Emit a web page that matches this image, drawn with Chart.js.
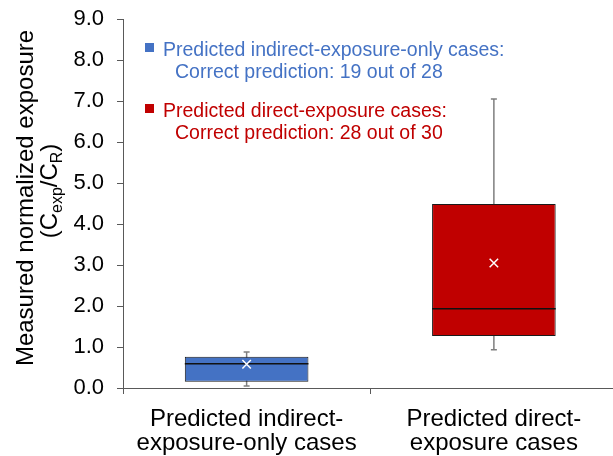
<!DOCTYPE html>
<html>
<head>
<meta charset="utf-8">
<script src="https://cdn.jsdelivr.net/npm/chart.js@4"></script>
<style>
  html, body { margin: 0; padding: 0; background: #fff; overflow: hidden; }
  #wrap { width: 625px; height: 456px; position: relative; }
</style>
</head>
<body>
<div id="wrap"><canvas id="boxChart"></canvas></div>
<script>
// categories (multi-line tick labels)
const categories = [
    ['Predicted indirect-', 'exposure-only cases'],
    ['Predicted direct-', 'exposure cases']
];

// box statistics
const whiskerMin = [0.05, 0.93];
const quartile1  = [0.15, 1.27];
const medians    = [0.59, 1.93];
const quartile3  = [0.76, 4.49];
const whiskerMax = [0.88, 7.05];
const means      = [0.58, 3.05];

const boxColors = ['#4472C4', '#C00000'];

// legend text
const legendItems = [
    { color: '#4472C4', lines: ['Predicted indirect-exposure-only cases:', 'Correct prediction: 19 out of 28'] },
    { color: '#C00000', lines: ['Predicted direct-exposure cases:', 'Correct prediction: 28 out of 30'] }
];

const yTicksMin = 0;
const yTicksMax = 9;
const yTicksStep = 1;

const FONT = '"Liberation Sans", Arial, sans-serif';
const axisColor = '#595959';

const boxRanges = quartile1.map((q, i) => [q, quartile3[i]]);

// whiskers behind the boxes, medians on top of them
const boxPlotPlugin = {
    id: 'boxPlotExtras',
    beforeDatasetsDraw(chart) {
        const ctx = chart.ctx;
        const xs = chart.scales.x, ys = chart.scales.y;
        ctx.save();
        ctx.strokeStyle = '#7f7f7f';
        ctx.lineWidth = 1.5;
        for (let i = 0; i < categories.length; i++) {
            const x = xs.getPixelForValue(i);
            const yMin = ys.getPixelForValue(whiskerMin[i]);
            const yMax = ys.getPixelForValue(whiskerMax[i]);
            ctx.beginPath();
            ctx.moveTo(x, yMin); ctx.lineTo(x, yMax);
            ctx.moveTo(x - 3, yMin); ctx.lineTo(x + 3, yMin);
            ctx.moveTo(x - 3, yMax); ctx.lineTo(x + 3, yMax);
            ctx.stroke();
        }
        ctx.restore();
    },
    afterDatasetDraw(chart, args) {
        if (args.index !== 0) return;
        const ctx = chart.ctx;
        const ys = chart.scales.y;
        const meta = chart.getDatasetMeta(0);
        ctx.save();
        ctx.strokeStyle = '#111';
        ctx.lineWidth = 1.5;
        meta.data.forEach((bar, i) => {
            const y = ys.getPixelForValue(medians[i]);
            const half = bar.width / 2;
            ctx.beginPath();
            ctx.moveTo(bar.x - half, y);
            ctx.lineTo(bar.x + half, y);
            ctx.stroke();
        });
        ctx.restore();
    },
    afterDraw(chart) {
        const ctx = chart.ctx;
        ctx.save();

        // legend inside the plot
        ctx.font = '19.5px ' + FONT;
        ctx.textBaseline = 'alphabetic';
        ctx.textAlign = 'left';
        let base = 56;
        legendItems.forEach(item => {
            ctx.fillStyle = item.color;
            ctx.fillRect(145, base - 13, 9, 9);
            ctx.fillText(item.lines[0], 163, base);
            ctx.fillText(item.lines[1], 175, base + 22);
            base += 61;
        });

        // y axis title, two lines, second with subscripts
        ctx.fillStyle = '#000';
        ctx.translate(33, 198);
        ctx.rotate(-Math.PI / 2);
        ctx.textAlign = 'center';
        ctx.font = '24px ' + FONT;
        ctx.fillText('Measured normalized exposure', 0, 0);

        const parts = [
            { t: '(C', sub: false },
            { t: 'exp', sub: true },
            { t: '/C', sub: false },
            { t: 'R', sub: true },
            { t: ')', sub: false }
        ];
        const mainFont = '24px ' + FONT;
        const subFont = '16px ' + FONT;
        let total = 0;
        parts.forEach(p => {
            ctx.font = p.sub ? subFont : mainFont;
            p.w = ctx.measureText(p.t).width;
            total += p.w;
        });
        ctx.textAlign = 'left';
        let x = -total / 2 + 7;
        parts.forEach(p => {
            ctx.font = p.sub ? subFont : mainFont;
            ctx.fillText(p.t, x, 24 + (p.sub ? 5 : 0));
            x += p.w;
        });
        ctx.restore();
    }
};

const ctx = document.getElementById('boxChart').getContext('2d');

const boxChart = new Chart(ctx, {
    type: 'bar',
    data: {
        labels: categories,
        datasets: [
            {
                label: 'Box',
                data: boxRanges,
                backgroundColor: boxColors,
                borderColor: '#1a1a1a',
                borderWidth: 1,
                borderSkipped: false,
                categoryPercentage: 1,
                barPercentage: 0.5,
                grouped: false,
                order: 2
            },
            {
                label: 'Mean',
                type: 'line',
                data: means,
                showLine: false,
                pointStyle: 'crossRot',
                pointRadius: 6,
                pointBorderColor: '#ffffff',
                pointBorderWidth: 1.5,
                pointBackgroundColor: '#ffffff',
                order: 0
            }
        ]
    },
    options: {
        responsive: true,
        maintainAspectRatio: false,
        animation: false,
        layout: {
            padding: { top: 19, right: 0, bottom: 0, left: 0 }
        },
        plugins: {
            legend: { display: false },
            tooltip: { enabled: false }
        },
        scales: {
            x: {
                afterFit(scale) {
                    scale.height = 68;
                    scale.paddingLeft = 0;
                    scale.paddingRight = 0;
                },
                grid: {
                    display: true,
                    drawOnChartArea: false,
                    drawTicks: true,
                    tickLength: 6,
                    color: axisColor,
                    offset: true
                },
                border: { display: true, color: axisColor, width: 1 },
                ticks: {
                    color: '#000',
                    font: { family: FONT, size: 24, lineHeight: 1.0 },
                    padding: 13,
                    maxRotation: 0
                }
            },
            y: {
                min: yTicksMin,
                max: yTicksMax,
                afterFit(scale) {
                    scale.width = 123;
                    scale.paddingTop = 0;
                    scale.paddingBottom = 0;
                },
                grid: {
                    display: true,
                    drawOnChartArea: false,
                    drawTicks: true,
                    tickLength: 6,
                    color: axisColor
                },
                border: { display: true, color: axisColor, width: 1 },
                ticks: {
                    stepSize: yTicksStep,
                    color: '#000',
                    font: { family: FONT, size: 22 },
                    padding: 13,
                    callback: v => v.toFixed(1)
                }
            }
        }
    },
    plugins: [boxPlotPlugin]
});
</script>
</body>
</html>
